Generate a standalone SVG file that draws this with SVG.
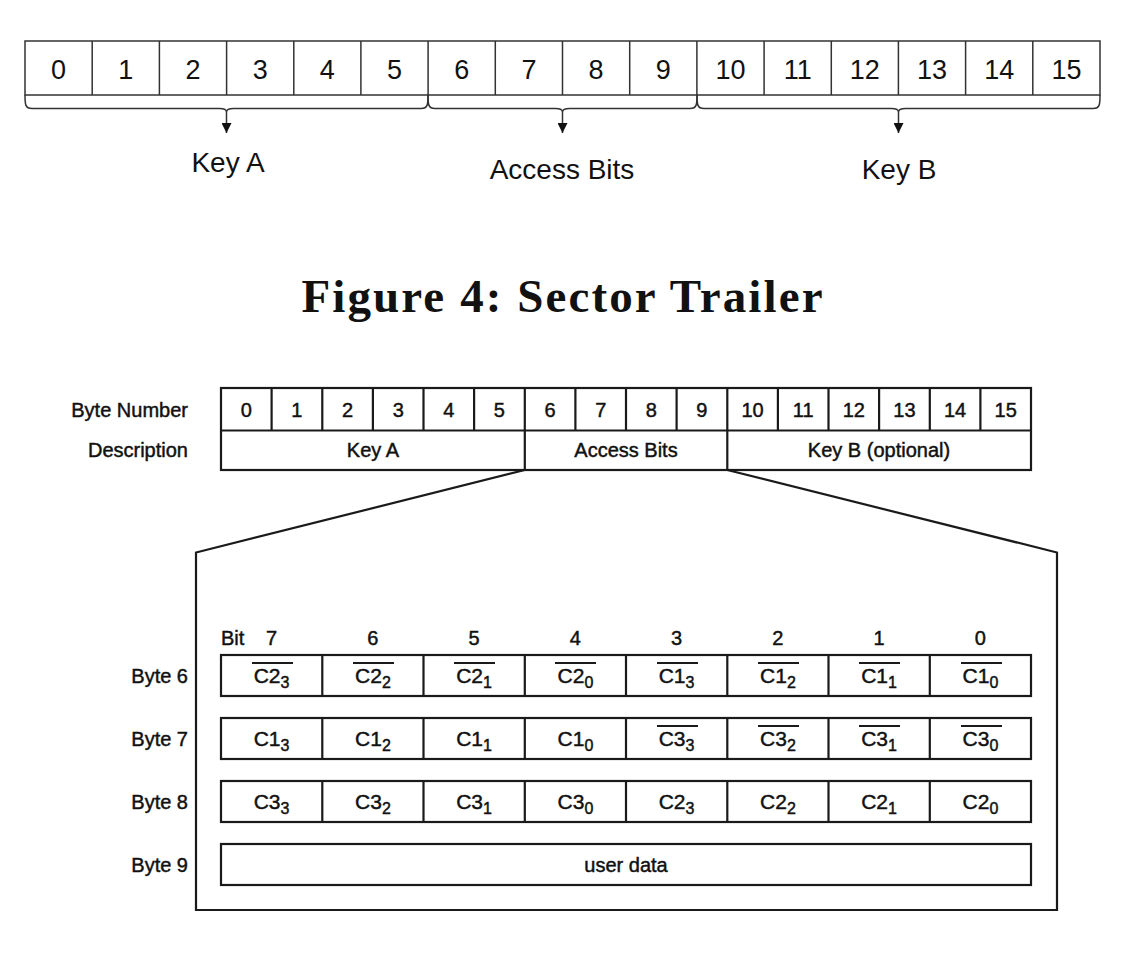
<svg xmlns="http://www.w3.org/2000/svg" width="1132" height="962" viewBox="0 0 1132 962">
<defs>
<style>
.sans{font-family:"Liberation Sans",Arial,Helvetica,sans-serif;fill:#111}
.d1{font-size:27px;text-anchor:middle}
.lbl{font-size:28px;text-anchor:middle}
.title{font-family:"Liberation Serif","Times New Roman",serif;font-weight:bold;font-size:47px;text-anchor:middle;fill:#111}
.s{font-size:20px;stroke:#111;stroke-width:0.45px}
.mid{text-anchor:middle}
.end{text-anchor:end}
.cell{font-size:21px;text-anchor:middle;stroke:#111;stroke-width:0.45px}
.sub{font-size:16px}
.thin{fill:none;stroke:#333;stroke-width:1.5}
.thick{fill:none;stroke:#1a1a1a;stroke-width:2.2}
.ov{stroke:#1a1a1a;stroke-width:1.8}
.brace{fill:none;stroke:#333;stroke-width:1.5}
</style>
<marker id="ah" markerUnits="userSpaceOnUse" markerWidth="10" markerHeight="10" refX="10" refY="5" orient="auto">
<path d="M0,0 L10,5 L0,10 z" fill="#111"/>
</marker>
</defs>
<rect width="1132" height="962" fill="#fff"/>

<g id="sector-trailer-bytes">
<rect class="thin" x="25" y="41" width="1075" height="54"/>
<path class="thin" d="M92.2,41V95M159.4,41V95M226.6,41V95M293.8,41V95M360.9,41V95M428.1,41V95M495.3,41V95M562.5,41V95M629.7,41V95M696.9,41V95M764.1,41V95M831.3,41V95M898.4,41V95M965.6,41V95M1032.8,41V95"/>
<g class="sans d1">
<text x="58.6" y="79">0</text><text x="125.8" y="79">1</text><text x="193" y="79">2</text><text x="260.2" y="79">3</text>
<text x="327.3" y="79">4</text><text x="394.5" y="79">5</text><text x="461.7" y="79">6</text><text x="528.9" y="79">7</text>
<text x="596.1" y="79">8</text><text x="663.3" y="79">9</text><text x="730.5" y="79">10</text><text x="797.7" y="79">11</text>
<text x="864.8" y="79">12</text><text x="932" y="79">13</text><text x="999.2" y="79">14</text><text x="1066.4" y="79">15</text>
</g>
</g>

<g id="label-key-a"><text class="sans lbl" x="228" y="172">Key A</text></g>
<g id="label-access-bits"><text class="sans lbl" x="562" y="179">Access Bits</text></g>
<g id="label-key-b"><text class="sans lbl" x="899" y="179">Key B</text></g>

<g id="title"><text class="title" x="562" y="312" textLength="521" lengthAdjust="spacing">Figure 4: Sector Trailer</text></g>

<g id="byte-table">
<text class="sans s end" x="188" y="417">Byte Number</text>
<text class="sans s end" x="188" y="457">Description</text>
<rect class="thick" x="221" y="388" width="810" height="82"/>
<path class="thick" d="M221,430.5H1031"/>
<path class="thick" d="M271.6,388V430.5M322.3,388V430.5M372.9,388V430.5M423.5,388V430.5M474.1,388V430.5M524.8,388V470M575.4,388V430.5M626,388V430.5M676.6,388V430.5M727.3,388V470M777.9,388V430.5M828.5,388V430.5M879.1,388V430.5M929.8,388V430.5M980.4,388V430.5"/>
<g class="sans s mid">
<text x="246.3" y="417">0</text><text x="296.9" y="417">1</text><text x="347.6" y="417">2</text><text x="398.2" y="417">3</text>
<text x="448.8" y="417">4</text><text x="499.4" y="417">5</text><text x="550.1" y="417">6</text><text x="600.7" y="417">7</text>
<text x="651.3" y="417">8</text><text x="701.9" y="417">9</text><text x="752.6" y="417">10</text><text x="803.2" y="417">11</text>
<text x="853.8" y="417">12</text><text x="904.4" y="417">13</text><text x="955.1" y="417">14</text><text x="1005.7" y="417">15</text>
<text x="373" y="457">Key A</text>
<text x="626" y="457">Access Bits</text>
<text x="879" y="457">Key B (optional)</text>
</g>
</g>

<g id="access-bits-detail">
<path class="thick" d="M524.8,470 L196,552.5 V910 H1057 V552.5 L727.3,470"/>
<text class="sans s" x="221" y="645">Bit</text>
<g class="sans s mid">
<text x="271.6" y="645">7</text><text x="372.9" y="645">6</text><text x="474.1" y="645">5</text><text x="575.4" y="645">4</text>
<text x="676.6" y="645">3</text><text x="777.9" y="645">2</text><text x="879.1" y="645">1</text><text x="980.4" y="645">0</text>
</g>
</g>

<g id="byte-6">
<text class="sans s end" x="188" y="683">Byte 6</text>
<rect class="thick" x="221" y="655" width="810" height="41"/>
<path class="thick" d="M322.3,655V696M423.5,655V696M524.8,655V696M626,655V696M727.3,655V696M828.5,655V696M929.8,655V696"/>
<g class="sans cell">
<text x="271.6" y="683">C2<tspan class="sub" dy="5">3</tspan></text>
<text x="372.9" y="683">C2<tspan class="sub" dy="5">2</tspan></text>
<text x="474.1" y="683">C2<tspan class="sub" dy="5">1</tspan></text>
<text x="575.4" y="683">C2<tspan class="sub" dy="5">0</tspan></text>
<text x="676.6" y="683">C1<tspan class="sub" dy="5">3</tspan></text>
<text x="777.9" y="683">C1<tspan class="sub" dy="5">2</tspan></text>
<text x="879.1" y="683">C1<tspan class="sub" dy="5">1</tspan></text>
<text x="980.4" y="683">C1<tspan class="sub" dy="5">0</tspan></text>
</g>
<path class="ov" d="M252,663H293M353,663H394M454,663H495M555,663H596M657,663H698M758,663H799M859,663H900M961,663H1002"/>
</g>

<g id="byte-7">
<text class="sans s end" x="188" y="746">Byte 7</text>
<rect class="thick" x="221" y="718" width="810" height="41"/>
<path class="thick" d="M322.3,718V759M423.5,718V759M524.8,718V759M626,718V759M727.3,718V759M828.5,718V759M929.8,718V759"/>
<g class="sans cell">
<text x="271.6" y="746">C1<tspan class="sub" dy="5">3</tspan></text>
<text x="372.9" y="746">C1<tspan class="sub" dy="5">2</tspan></text>
<text x="474.1" y="746">C1<tspan class="sub" dy="5">1</tspan></text>
<text x="575.4" y="746">C1<tspan class="sub" dy="5">0</tspan></text>
<text x="676.6" y="746">C3<tspan class="sub" dy="5">3</tspan></text>
<text x="777.9" y="746">C3<tspan class="sub" dy="5">2</tspan></text>
<text x="879.1" y="746">C3<tspan class="sub" dy="5">1</tspan></text>
<text x="980.4" y="746">C3<tspan class="sub" dy="5">0</tspan></text>
</g>
<path class="ov" d="M657,726H698M758,726H799M859,726H900M961,726H1002"/>
</g>

<g id="byte-8">
<text class="sans s end" x="188" y="809">Byte 8</text>
<rect class="thick" x="221" y="781" width="810" height="41"/>
<path class="thick" d="M322.3,781V822M423.5,781V822M524.8,781V822M626,781V822M727.3,781V822M828.5,781V822M929.8,781V822"/>
<g class="sans cell">
<text x="271.6" y="809">C3<tspan class="sub" dy="5">3</tspan></text>
<text x="372.9" y="809">C3<tspan class="sub" dy="5">2</tspan></text>
<text x="474.1" y="809">C3<tspan class="sub" dy="5">1</tspan></text>
<text x="575.4" y="809">C3<tspan class="sub" dy="5">0</tspan></text>
<text x="676.6" y="809">C2<tspan class="sub" dy="5">3</tspan></text>
<text x="777.9" y="809">C2<tspan class="sub" dy="5">2</tspan></text>
<text x="879.1" y="809">C2<tspan class="sub" dy="5">1</tspan></text>
<text x="980.4" y="809">C2<tspan class="sub" dy="5">0</tspan></text>
</g>
</g>

<g id="byte-9">
<text class="sans s end" x="188" y="872">Byte 9</text>
<rect class="thick" x="221" y="844" width="810" height="41"/>
<text class="sans s mid" x="626" y="872">user data</text>
</g>

<g id="connectors">
<path class="brace" d="M25,95 C25,104 25,108.5 32,108.5 H219.5 C224.5,108.5 226.5,110 226.5,112 C226.5,110 228.5,108.5 233.5,108.5 H421 C428,108.5 428,104 428,95"/>
<path class="brace" d="M428,95 C428,104 428,108.5 435,108.5 H555.5 C560.5,108.5 562.5,110 562.5,112 C562.5,110 564.5,108.5 569.5,108.5 H690 C697,108.5 697,104 697,95"/>
<path class="brace" d="M697,95 C697,104 697,108.5 704,108.5 H891.5 C896.5,108.5 898.5,110 898.5,112 C898.5,110 900.5,108.5 905.5,108.5 H1093 C1100,108.5 1100,104 1100,95"/>
<line class="brace" x1="226.5" y1="112" x2="226.5" y2="133" marker-end="url(#ah)"/>
<line class="brace" x1="562.5" y1="112" x2="562.5" y2="133" marker-end="url(#ah)"/>
<line class="brace" x1="898.5" y1="112" x2="898.5" y2="133" marker-end="url(#ah)"/>
</g>
</svg>
